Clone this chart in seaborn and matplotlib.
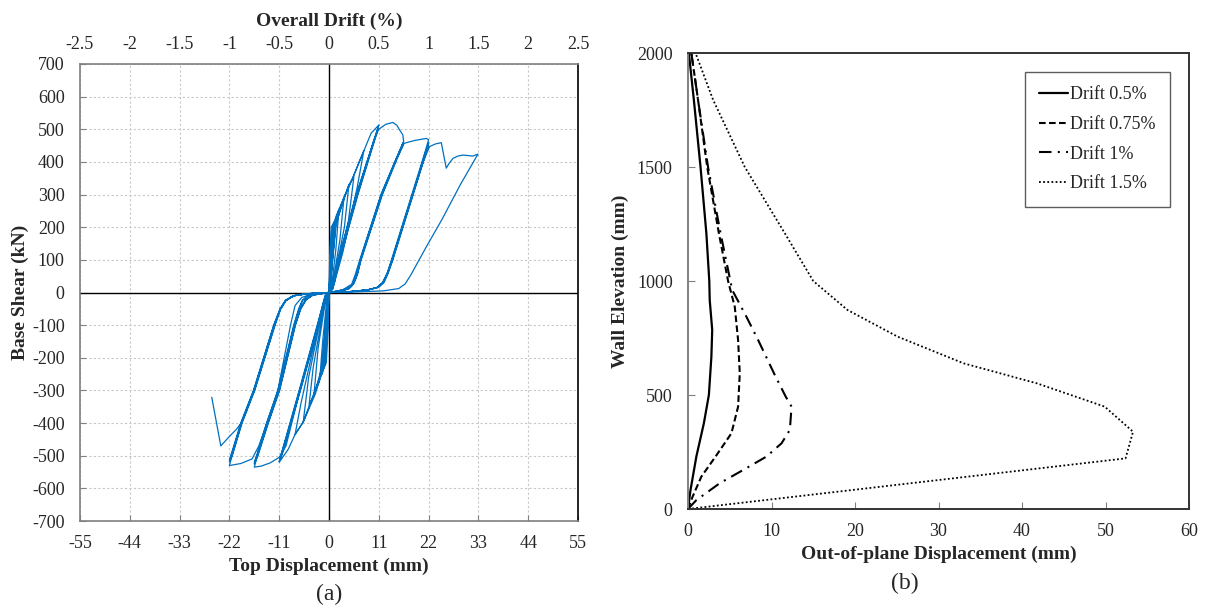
import numpy as np
import pandas as pd
import matplotlib
matplotlib.use("Agg")
import matplotlib.pyplot as plt
import seaborn as sns

# ---------------- (a) base shear vs top displacement ----------------
# waypoints of the cyclic test, grouped by drift stage (mm, kN)
small_d = [0, 0.2, 0.5, 1.1, 0.7, 0.3, 0, -0.2, -0.6, -1.1, -0.8, -0.3, 0,
           0.3, 0.8, 1.6, 2.2, 1.5, 0.5, 0, -0.3, -0.9, -1.5, -2.0, -1.4, -0.4, 0,
           0.4, 1.0, 2.2, 3.3, 2.4, 0.6, 0, -0.4, -1.1, -2.2, -3.3, -2.4, -0.6, 0,
           0.4, 1.2, 3.3, 4.4, 3.4, 0.7, 0, -0.5, -1.3, -3.3, -4.4, -3.5, -0.7, 0,
           0.5, 1.4, 4.4, 5.5, 4.3, 0.8, 0, -0.5, -1.5, -4.4, -5.7, -4.5, -0.8, 0,
           0.5, 1.6, 3.1, 5.3, 7.7, 6.2, 3.0, 0.8, 0,
           -0.6, -1.6, -3.0, -5.7, -7.5, -6.2, -3.0, -0.9, 0]
small_v = [0, 130, 200, 216, 100, 10, 0, -120, -215, -232, -120, -10, 0,
           110, 200, 235, 255, 130, 10, 0, -110, -220, -250, -258, -150, -10, 0,
           100, 205, 255, 290, 160, 10, 0, -100, -225, -275, -310, -170, -10, 0,
           90, 205, 290, 330, 200, 10, 0, -100, -230, -315, -345, -230, -10, 0,
           80, 205, 330, 355, 220, 10, 0, -90, -240, -350, -397, -260, -10, 0,
           60, 210, 284, 353, 435, 320, 120, 10, 0,
           -80, -245, -310, -397, -435, -340, -140, -10, 0]

d05_d = [0.5, 1.6, 3.1, 5.3, 7.5, 9.3, 11.0, 10.3, 6.2, 2.2, 0.8, 0.3, 0,
         -0.5, -1.6, -3.0, -5.7, -7.5, -9.0, -11.0, -10.3, -6.4, -2.4, -0.9, -0.3, 0,
         0.4, 1.0, 2.0, 6.0, 11.0, 10.4, 6.3, 2.3, 0.9, 0,
         -0.4, -1.0, -2.3, -6.3, -11.0, -10.4, -6.5, -2.5, -1.0, 0,
         0.4, 1.1, 2.1, 6.1, 10.9, 10.5, 6.4, 2.4, 1.0, 0,
         -0.4, -1.1, -2.4, -6.4, -10.9, -10.5, -6.6, -2.6, -1.1, 0]
d05_v = [50, 225, 284, 353, 427, 488, 513, 480, 300, 100, 25, 5, 0,
         -60, -230, -300, -397, -435, -480, -520, -495, -300, -100, -25, -5, 0,
         5, 30, 100, 300, 512, 485, 300, 100, 22, 0,
         -5, -30, -100, -300, -518, -492, -300, -100, -22, 0,
         5, 30, 100, 300, 508, 485, 300, 100, 22, 0,
         -5, -30, -100, -300, -515, -492, -300, -100, -22, 0]

d075_d = [0.5, 1.2, 2.2, 6.2, 10.0, 11.0, 12.5, 14.1, 15.0, 15.6, 16.3, 16.5,
          15.2, 11.5, 6.8, 5.8, 5.0, 3.0, 0,
          -0.5, -1.2, -2.5, -6.4, -9.5, -11.0, -13.0, -15.0, -16.5,
          -15.8, -13.5, -11.0, -7.5, -6.2, -5.0, -3.5, 0,
          2.0, 3.8, 4.8, 5.5, 6.1, 6.9, 11.5, 14.5, 16.4, 15.2, 11.7, 7.0, 6.2, 5.4, 4.4, 2.8, 0,
          -3.0, -4.8, -5.8, -6.6, -7.7, -11.2, -13.7, -15.9, -16.5,
          -15.7, -13.4, -10.9, -7.4, -6.3, -5.1, -3.6, 0,
          2.0, 3.9, 4.9, 5.6, 6.2, 7.0, 11.6, 14.6, 16.5, 15.3, 11.8, 7.1, 6.3, 5.5, 4.5, 2.8, 0,
          -3.0, -4.9, -5.9, -6.7, -7.8, -11.3, -13.8, -16.0, -16.5,
          -15.8, -13.5, -11.0, -7.5, -6.4, -5.2, -3.7, 0]
d075_v = [5, 30, 100, 300, 470, 500, 515, 521, 512, 498, 483, 462,
          420, 300, 100, 55, 25, 8, 0,
          -5, -30, -100, -300, -470, -505, -522, -532, -535,
          -500, -400, -300, -100, -50, -22, -8, 0,
          4, 10, 18, 32, 55, 100, 300, 400, 460, 420, 300, 100, 55, 28, 12, 5, 0,
          -5, -12, -24, -50, -100, -300, -400, -500, -525,
          -500, -400, -300, -100, -50, -22, -8, 0,
          4, 10, 18, 32, 55, 100, 300, 400, 455, 418, 300, 100, 55, 28, 12, 5, 0,
          -5, -12, -24, -50, -100, -300, -400, -500, -520,
          -498, -400, -300, -100, -50, -22, -8, 0]

d1_d = [2.0, 4.0, 5.2, 6.0, 7.0, 11.7, 14.6, 16.3, 17.1, 19.0, 21.5, 22.0,
        21.2, 18.3, 13.8, 12.9, 12.0, 10.8, 8.5, 5.0, 0,
        -4.0, -6.0, -7.5, -8.5, -11.3, -13.7, -15.5, -17.0, -19.5, -22.0,
        -21.5, -19.3, -16.5, -12.0, -10.8, -9.6, -7.8, -5.0, 0,
        5.0, 8.5, 10.5, 11.8, 12.8, 13.9, 18.4, 20.7, 22.0,
        21.3, 18.5, 14.0, 13.0, 12.1, 10.9, 8.5, 5.0, 0,
        -5.0, -7.8, -9.5, -10.7, -12.1, -16.6, -19.4, -21.6, -22.0,
        -21.4, -19.2, -16.4, -11.9, -10.7, -9.5, -7.7, -5.0, 0,
        5.0, 8.6, 10.6, 11.9, 12.9, 14.0, 18.5, 20.8, 22.0,
        21.4, 18.6, 14.1, 13.1, 12.2, 11.0, 8.6, 5.0, 0,
        -5.0, -7.9, -9.6, -10.8, -12.2, -16.7, -19.5, -21.7, -22.0,
        -21.5, -19.3, -16.5, -12.0, -10.8, -9.6, -7.8, -5.0, 0]
d1_v = [5, 12, 22, 50, 100, 300, 400, 455, 459, 466, 472, 468,
        430, 300, 100, 60, 32, 16, 8, 3, 0,
        -6, -15, -40, -100, -300, -400, -470, -510, -524, -530,
        -505, -400, -300, -100, -52, -25, -10, -4, 0,
        3, 8, 15, 30, 58, 100, 300, 400, 458,
        430, 300, 100, 60, 32, 16, 8, 3, 0,
        -4, -10, -24, -50, -100, -300, -400, -500, -518,
        -500, -400, -300, -100, -52, -25, -10, -4, 0,
        3, 8, 15, 30, 58, 100, 300, 400, 452,
        428, 300, 100, 60, 32, 16, 8, 3, 0,
        -4, -10, -24, -50, -100, -300, -400, -500, -514,
        -498, -400, -300, -100, -52, -25, -10, -4, 0]

d15_d = [5.0, 8.6, 10.6, 11.9, 12.9, 14.0, 18.5, 20.8, 22.2, 23.5, 24.8, 25.9, 26.5,
         27.4, 28.5, 29.6, 31.8, 32.9,
         29.0, 25.0, 21.5, 19.5, 18.0, 16.8, 15.4, 12.0, 6.0, 0,
         -5.0, -7.9, -9.6, -10.8, -12.2, -16.6, -19.4, -20.5, -21.8, -23.9, -25.9]
d15_v = [3, 8, 15, 30, 58, 100, 300, 400, 447, 455, 459, 381, 395,
         411, 418, 421, 418, 424,
         330, 225, 140, 90, 52, 26, 12, 5, 2, 0,
         -4, -10, -24, -50, -100, -300, -400, -420, -438, -470, -321]

disp_ticks = list(range(-55, 56, 11))
shear_ticks = list(range(-700, 701, 100))
drift_ticks = [-2.5, -2, -1.5, -1, -0.5, 0, 0.5, 1, 1.5, 2, 2.5]
mm_per_drift = 22.0

# ---------------- (b) out-of-plane profiles ----------------
elev_05 = [0, 83, 230, 376, 500, 668, 785, 917, 1000, 1209, 1500, 1795, 2000]
disp_05 = [0, 0.3, 1.0, 1.9, 2.5, 2.8, 2.9, 2.6, 2.55, 2.2, 1.5, 0.7, 0.1]
elev_075 = [0, 54, 142, 230, 332, 449, 595, 741, 887, 1000, 1209, 1500, 1795, 2000]
disp_075 = [0, 0.55, 1.6, 3.3, 5.2, 6.0, 6.2, 6.0, 5.6, 4.8, 3.7, 2.3, 1.2, 0.4]
elev_1 = [0, 39, 113, 171, 230, 288, 347, 449, 493, 595, 741, 843, 960, 1209, 1500, 1795, 2000]
disp_1 = [0, 1.0, 3.8, 6.6, 9.4, 11.2, 12.2, 12.4, 11.7, 10.3, 8.4, 7.0, 5.3, 3.9, 2.4, 1.2, 0.4]
elev_15 = [0, 222, 339, 449, 551, 639, 756, 873, 1000, 1209, 1500, 1795, 2000]
disp_15 = [0, 52.4, 53.3, 49.9, 41.8, 33.0, 25.1, 19.1, 15.0, 11.6, 6.8, 3.0, 0.9]
profile_labels = ["Drift 0.5%", "Drift 0.75%", "Drift 1%", "Drift 1.5%"]

# ---------------- styling ----------------
sns.set_theme(style="white")
plt.rcParams["font.family"] = ["Liberation Serif", "DejaVu Serif"]
plt.rcParams["axes.unicode_minus"] = False

W, H = 1205, 608
fig = plt.figure(figsize=(W / 100, H / 100), dpi=100)


def box(l, t, r, b):
    return [l / W, 1 - b / H, (r - l) / W, (b - t) / H]


# ---- panel (a)
ax1 = fig.add_axes(box(80, 64, 578, 521))
hyst = pd.DataFrame({
    "d": small_d + d05_d + d075_d + d1_d + d15_d,
    "v": small_v + d05_v + d075_v + d1_v + d15_v,
})
sns.lineplot(data=hyst, x="d", y="v", sort=False, estimator=None,
             color="#0070C0", lw=0.9, ax=ax1)
ax1.axhline(0, color="black", lw=1.0, zorder=1)
ax1.axvline(0, color="black", lw=1.0, zorder=1)
ax1.set_xlim(-55, 55)
ax1.set_ylim(-700, 700)
ax1.set_xticks(disp_ticks)
ax1.set_yticks(shear_ticks)
ax1.grid(True, color="#c8c8c8", ls=(0, (2, 2)), lw=0.8)
ax1.set_axisbelow(True)
for s in ["left", "bottom", "top"]:
    ax1.spines[s].set_color("#808080")
    ax1.spines[s].set_linewidth(1.2)
ax1.spines["right"].set_color("black")
ax1.spines["right"].set_linewidth(1.2)
ax1.tick_params(axis="both", direction="in", length=4, width=0.8,
                color="#808080", labelsize=13, left=True, bottom=True)
ax1.tick_params(axis="x", pad=10)
ax1.tick_params(axis="y", pad=11)
ax1.set_xlabel("Top Displacement (mm)", fontsize=14, fontweight="bold", labelpad=4)
ax1.set_ylabel("Base Shear (kN)", fontsize=14, fontweight="bold", labelpad=2)

sec = ax1.secondary_xaxis("top", functions=(lambda x: x / mm_per_drift,
                                             lambda p: p * mm_per_drift))
sec.set_xticks(drift_ticks)
sec.set_xticklabels([f"{t:g}" for t in drift_ticks])
sec.tick_params(axis="x", direction="in", length=0, labelsize=13, pad=8)
sec.spines["top"].set_visible(False)
sec.set_xlabel("Overall Drift (%)", fontsize=14, fontweight="bold", labelpad=7)

fig.text(329 / W, 1 - 594 / H, "(a)", ha="center", va="center", fontsize=17)

# ---- panel (b)
ax2 = fig.add_axes(box(688, 53, 1189, 509))
styles = ["-", (0, (3.2, 1.6)), (0, (6, 3, 1, 3)), (0, (1, 1.3))]
widths = [1.6, 1.5, 1.5, 1.3]
profiles = [(disp_05, elev_05), (disp_075, elev_075), (disp_1, elev_1), (disp_15, elev_15)]
for (xd, yd), lab, lsty, lw in zip(profiles, profile_labels, styles, widths):
    sns.lineplot(x=xd, y=yd, sort=False, estimator=None, color="black",
                 linestyle=lsty, lw=lw, label=lab, ax=ax2)
ax2.set_xlim(0, 60)
ax2.set_ylim(0, 2000)
ax2.set_xticks(range(0, 61, 10))
ax2.set_yticks(range(0, 2001, 500))
for s in ["top", "right", "bottom"]:
    ax2.spines[s].set_color("#333333")
    ax2.spines[s].set_linewidth(1.4)
ax2.spines["left"].set_color("#808080")
ax2.spines["left"].set_linewidth(1.4)
ax2.tick_params(axis="both", direction="in", length=5, width=0.8,
                color="#808080", labelsize=13, left=True, bottom=True)
ax2.tick_params(axis="x", pad=10)
ax2.tick_params(axis="y", pad=11)
ax2.set_xlabel("Out-of-plane Displacement (mm)", fontsize=14, fontweight="bold", labelpad=4)
ax2.set_ylabel("Wall Elevation (mm)", fontsize=14, fontweight="bold", labelpad=6)
leg = ax2.legend(loc="upper right", bbox_to_anchor=((1170 - 688) / 501, (509 - 72) / 456),
                 frameon=True, fancybox=False, fontsize=13, handlelength=1.6,
                 handletextpad=0.1, labelspacing=0.7, borderpad=0.8, borderaxespad=0)
leg.get_frame().set_edgecolor("#333333")
leg.get_frame().set_linewidth(1.0)

fig.text(905 / W, 1 - 583 / H, "(b)", ha="center", va="center", fontsize=17)

fig.savefig("out.png", dpi=100)
